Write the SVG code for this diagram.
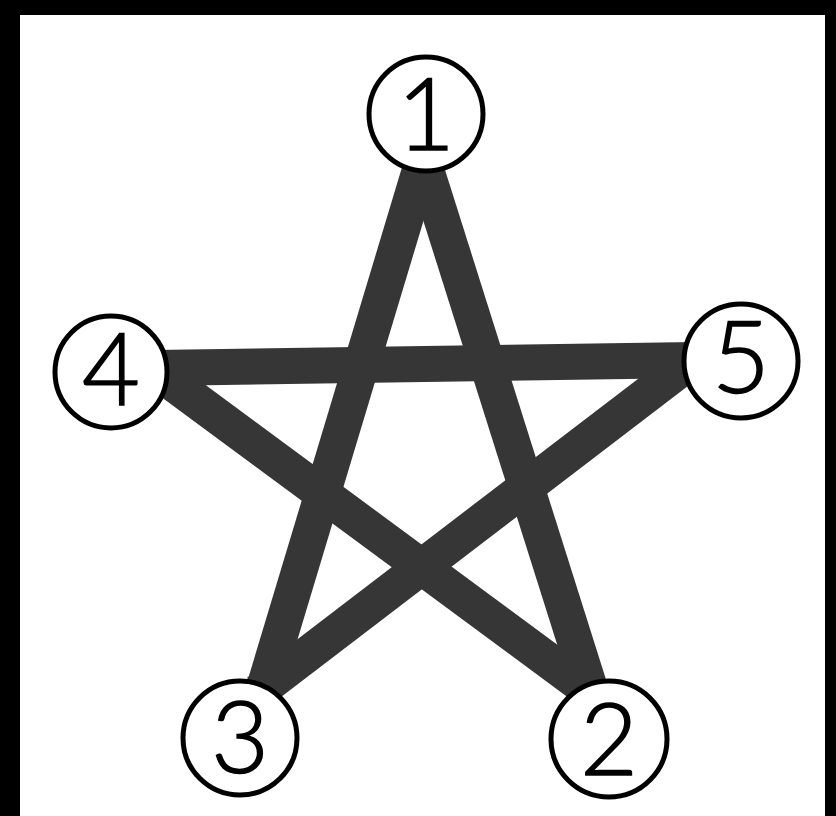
<svg xmlns="http://www.w3.org/2000/svg" width="836" height="816" viewBox="0 0 836 816">
<style>
.edge{stroke:#363636;stroke-width:36;stroke-linecap:butt;fill:none}
.ring{fill:#fff;stroke:#000;stroke-width:5}
.num{font-family:"Lato","Liberation Sans",sans-serif;font-weight:300;font-size:100px;fill:#000;stroke:#000;stroke-width:1.5;text-anchor:middle}
</style>
<rect x="0" y="0" width="836" height="816" fill="#000"/>
<rect x="20" y="15" width="805" height="801" fill="#fff"/>
<g id="connectors">
<line class="edge" x1="423" y1="160" x2="262" y2="695"/>
<line class="edge" x1="423" y1="160" x2="592" y2="695"/>
<line class="edge" x1="155" y1="368" x2="695" y2="360"/>
<line class="edge" x1="155" y1="370" x2="595" y2="695"/>
<line class="edge" x1="695" y1="358" x2="258" y2="692"/>
</g>
<g id="node1"><circle class="ring" cx="426" cy="114" r="57"/><text class="num" x="426" y="150">1</text></g>
<g id="node2"><circle class="ring" cx="609" cy="739" r="58"/><text class="num" x="609" y="775">2</text></g>
<g id="node3"><circle class="ring" cx="240" cy="738" r="57"/><text class="num" x="240" y="773">3</text></g>
<g id="node4"><circle class="ring" cx="111" cy="372" r="56"/><text class="num" x="111" y="405">4</text></g>
<g id="node5"><circle class="ring" cx="741" cy="361" r="57"/><text class="num" x="741" y="393">5</text></g>
</svg>
